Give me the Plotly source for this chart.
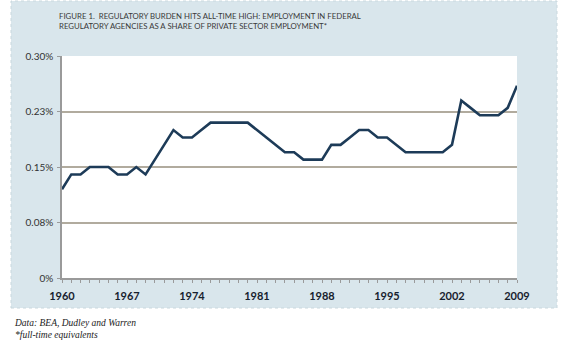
import plotly.graph_objects as go

years = list(range(1960, 2010))
share = [0.12, 0.14, 0.14, 0.15, 0.15, 0.15, 0.14, 0.14, 0.15, 0.14,
         0.16, 0.18, 0.20, 0.19, 0.19, 0.20, 0.21, 0.21, 0.21, 0.21,
         0.21, 0.20, 0.19, 0.18, 0.17, 0.17, 0.16, 0.16, 0.16, 0.18,
         0.18, 0.19, 0.20, 0.20, 0.19, 0.19, 0.18, 0.17, 0.17, 0.17,
         0.17, 0.17, 0.18, 0.24, 0.23, 0.22, 0.22, 0.22, 0.23, 0.26]

x_tickvals = [1960, 1967, 1974, 1981, 1988, 1995, 2002, 2009]
y_tickvals = [0, 0.075, 0.15, 0.225, 0.30]
y_ticktext = ["0%", "0.08%", "0.15%", "0.23%", "0.30%"]

title_lines = ["FIGURE 1.  REGULATORY BURDEN HITS ALL-TIME HIGH: EMPLOYMENT IN FEDERAL",
               "REGULATORY AGENCIES AS A SHARE OF PRIVATE SECTOR EMPLOYMENT*"]
foot_lines = ["Data: BEA, Dudley and Warren", "*full-time equivalents"]

W, H = 580, 342
ml, mr, mt, mb = 62, 63, 56, 64
pw, ph = W - ml - mr, H - mt - mb

def px(x):
    return (x - ml) / pw

def py(y):
    return (H - mb - y) / ph

fig = go.Figure()
fig.add_trace(go.Scatter(x=years, y=share, mode="lines",
                         line=dict(color="#1d3b58", width=2.6),
                         hoverinfo="skip", showlegend=False))

fig.update_layout(
    width=W, height=H,
    margin=dict(l=ml, r=mr, t=mt, b=mb, pad=0),
    paper_bgcolor="white",
    plot_bgcolor="rgba(0,0,0,0)",
    showlegend=False,
    shapes=[
        dict(type="rect", xref="paper", yref="paper", layer="below",
             x0=px(11), x1=px(557), y0=py(308), y1=py(1),
             fillcolor="#d9e6ec", line=dict(color="#c9d8de", width=1, dash="dot")),
        dict(type="rect", xref="paper", yref="paper", layer="below",
             x0=0, x1=1, y0=0, y1=1, fillcolor="white", line=dict(width=0)),
    ],
    xaxis=dict(range=[1960, 2009], tickvals=x_tickvals,
               ticktext=[str(v) for v in x_tickvals],
               showgrid=False, zeroline=False,
               showline=True, linecolor="#9a9a9a", linewidth=1.5,
               ticks="outside", ticklen=3, tickcolor="#9a9a9a", tickwidth=1,
               minor=dict(dtick=1, tick0=1960, ticks="outside", ticklen=3,
                          tickcolor="#9a9a9a", tickwidth=1, showgrid=False),
               tickfont=dict(family="Lato", size=11, color="#17212e", weight="bold"),
               ticklabelstandoff=4),
    yaxis=dict(range=[0, 0.3001], tickvals=y_tickvals, ticktext=y_ticktext,
               showgrid=True, gridcolor="#b1ab9e", gridwidth=1.5,
               zeroline=False,
               showline=True, linecolor="#9a9a9a", linewidth=1.5,
               ticks="outside", ticklen=3, tickcolor="#9a9a9a",
               tickfont=dict(family="Lato", size=10, color="#333333"),
               ticklabelstandoff=2),
    annotations=[
        dict(text="<br>".join(title_lines), xref="paper", yref="paper",
             x=px(57), y=py(9), xanchor="left", yanchor="top", align="left",
             showarrow=False, font=dict(family="Lato", size=7.8, color="#3a3a3a")),
        dict(text="<br>".join(foot_lines), xref="paper", yref="paper",
             x=px(12), y=py(316), xanchor="left", yanchor="top", align="left",
             showarrow=False,
             font=dict(family="Liberation Serif", size=9.5, color="#222222", style="italic")),
    ],
)

fig.write_html("out.html")
